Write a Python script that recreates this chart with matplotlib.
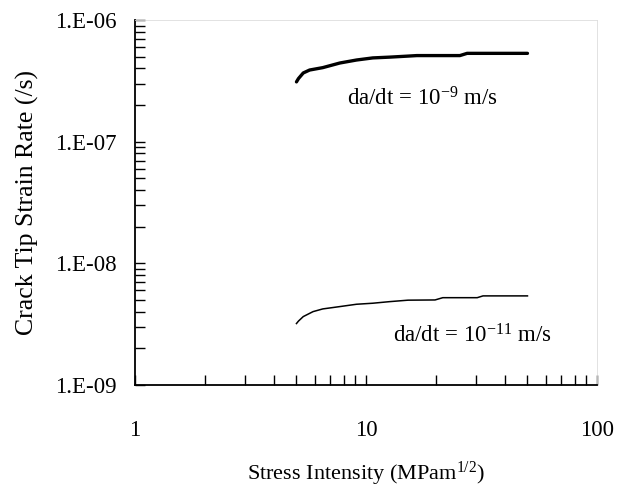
import matplotlib
matplotlib.use("Agg")
import matplotlib.pyplot as plt
from matplotlib.ticker import LogLocator, NullFormatter, FixedLocator

plt.rcParams['font.family'] = ['Liberation Serif', 'DejaVu Serif']
plt.rcParams['mathtext.fontset'] = 'custom'
plt.rcParams['mathtext.rm'] = 'Liberation Serif'
plt.rcParams['mathtext.it'] = 'Liberation Serif:italic'

# Data
upper_K = [5.0, 5.1, 5.35, 5.7, 6.5, 7.7, 9.1, 10.7, 12.6, 15.2, 16.6, 25.5, 27.4, 50.0]
upper_rate = [3.1e-7, 3.3e-7, 3.67e-7, 3.88e-7, 4.06e-7, 4.43e-7, 4.69e-7, 4.88e-7,
              4.95e-7, 5.05e-7, 5.1e-7, 5.1e-7, 5.32e-7, 5.32e-7]
lower_K = [5.0, 5.1, 5.35, 5.9, 6.5, 7.7, 9.1, 10.7, 12.6, 15.2, 19.9, 21.5, 30.3, 32.1, 50.0]
lower_rate = [3.2e-9, 3.35e-9, 3.65e-9, 4.01e-9, 4.22e-9, 4.41e-9, 4.61e-9, 4.70e-9,
              4.84e-9, 4.98e-9, 5.0e-9, 5.22e-9, 5.22e-9, 5.40e-9, 5.40e-9]
x_ticks = [1, 10, 100]
x_tick_labels = ['1', '10', '100']
y_ticks = [1e-9, 1e-8, 1e-7, 1e-6]
y_tick_labels = ['1.E-09', '1.E-08', '1.E-07', '1.E-06']
upper_label = 'da/dt = 10$^{-9}$ m/s'
lower_label = 'da/dt = 10$^{-11}$ m/s'

fig = plt.figure(figsize=(6.24, 4.88), dpi=100)
ax = fig.add_axes([135/624, 1-385/488, (597-135)/624, (385-20)/488])

ax.plot(upper_K, upper_rate, color='black', lw=2.4, solid_capstyle='round')
ax.plot(lower_K, lower_rate, color='black', lw=1.1)

ax.set_xscale('log')
ax.set_yscale('log')
ax.set_xlim(1, 100)
ax.set_ylim(1e-9, 1e-6)

ax.xaxis.set_major_locator(FixedLocator(x_ticks))
ax.set_xticklabels(x_tick_labels)
ax.yaxis.set_major_locator(FixedLocator(y_ticks))
ax.set_yticklabels(y_tick_labels)
ax.xaxis.set_minor_locator(LogLocator(base=10, subs=range(2, 10)))
ax.yaxis.set_minor_locator(LogLocator(base=10, subs=range(2, 10)))
ax.xaxis.set_minor_formatter(NullFormatter())
ax.yaxis.set_minor_formatter(NullFormatter())

ax.tick_params(axis='both', which='both', direction='in', length=7, width=1,
               labelsize=16.5, top=False, right=False)
ax.tick_params(axis='x', which='both', pad=25)
ax.tick_params(axis='y', which='both', pad=13)

for s in ['left', 'bottom']:
    ax.spines[s].set_linewidth(1.3)
for s in ['top', 'right']:
    ax.spines[s].set_color('#dddddd')
    ax.spines[s].set_linewidth(0.6)

ax.set_xlabel('Stress Intensity (MPam$^{1/2}$)', fontsize=16, labelpad=14)
ax.set_ylabel('Crack Tip Strain Rate (/s)', fontsize=18.5, labelpad=12)

ax.text(8.28, 2.0e-7, upper_label, fontsize=16.5, ha='left', va='baseline')
ax.text(13.09, 2.22e-9, lower_label, fontsize=16.5, ha='left', va='baseline')

fig.savefig('out.png', dpi=100)
